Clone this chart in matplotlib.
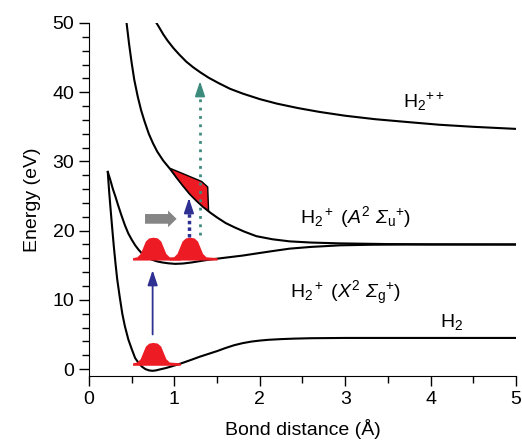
import matplotlib
matplotlib.use("Agg")
import matplotlib.pyplot as plt
from matplotlib.patches import Polygon, FancyArrow

plt.rcParams['font.family'] = ['Liberation Sans', 'DejaVu Sans']
plt.rcParams['mathtext.fontset'] = 'custom'
plt.rcParams['mathtext.rm'] = 'Liberation Sans'
plt.rcParams['mathtext.it'] = 'Liberation Sans:italic'
plt.rcParams['mathtext.bf'] = 'Liberation Sans:bold'
plt.rcParams['mathtext.sf'] = 'Liberation Sans:italic'

# ---- data ----
h2_x = [0.22, 0.235, 0.25, 0.27, 0.29, 0.31, 0.33, 0.36, 0.39, 0.42, 0.46, 0.50, 0.54,
        0.58, 0.62, 0.66, 0.70, 0.74, 0.78, 0.84, 0.90, 0.97, 1.05, 1.12, 1.20, 1.30,
        1.40, 1.50, 1.60, 1.70, 1.80, 1.90, 2.00, 2.10, 2.25, 2.40, 2.60, 3.0, 4.0, 5.0]
h2_y = [28.4, 25.8, 23.5, 20.6, 17.8, 15.3, 13.0, 10.4, 8.0, 6.2, 4.3, 2.9, 1.6,
        0.9, 0.35, 0.0, -0.18, -0.25, -0.2, -0.02, 0.15, 0.4, 0.7, 1.0, 1.35, 1.8,
        2.2, 2.6, 3.05, 3.45, 3.75, 3.97, 4.12, 4.23, 4.33, 4.4, 4.46, 4.5, 4.5, 4.5]

x_x = [0.22, 0.25, 0.28, 0.31, 0.34, 0.38, 0.42, 0.46, 0.50, 0.54, 0.58, 0.62, 0.66,
       0.70, 0.75, 0.80, 0.86, 0.93, 1.01, 1.10, 1.20, 1.30, 1.40, 1.50, 1.60, 1.70,
       1.80, 1.96, 2.15, 2.35, 2.6, 2.94, 3.3, 3.7, 4.2, 5.0]
x_y = [28.5, 27.3, 26.0, 24.9, 23.7, 22.2, 20.8, 19.6, 18.7, 17.9, 17.25, 16.7, 16.3,
       16.0, 15.75, 15.55, 15.4, 15.28, 15.2, 15.25, 15.4, 15.6, 15.8, 15.95, 16.1, 16.25,
       16.4, 16.7, 17.05, 17.4, 17.65, 17.88, 17.96, 18.0, 18.0, 18.0]

a_x = [0.44, 0.47, 0.50, 0.53, 0.57, 0.61, 0.65, 0.70, 0.75, 0.80, 0.87, 0.95, 1.03,
       1.10, 1.18, 1.26, 1.34, 1.42, 1.50, 1.60, 1.70, 1.82, 1.96, 2.15, 2.35, 2.6,
       2.94, 3.5, 4.0, 5.0]
a_y = [50.0, 46.9, 44.2, 41.8, 39.4, 37.4, 35.8, 34.0, 32.6, 31.4, 30.1, 28.9, 27.6,
       26.5, 25.3, 24.3, 23.4, 22.6, 21.9, 21.1, 20.5, 19.85, 19.2, 18.75, 18.45, 18.28,
       18.16, 18.06, 18.02, 18.0]

hpp_x = [0.79, 0.82, 0.87, 0.92, 0.99, 1.06, 1.14, 1.22, 1.30, 1.40, 1.52, 1.65, 1.80,
         2.0, 2.2, 2.45, 2.7, 3.0, 3.35, 3.72, 4.1, 4.5, 5.0]
hpp_y = [50.0, 49.4, 48.35, 47.45, 46.35, 45.4, 44.4, 43.6, 42.9, 42.1, 41.3, 40.5, 39.8,
         39.0, 38.35, 37.7, 37.15, 36.6, 36.1, 35.7, 35.3, 35.0, 34.7]

# wave-packet profile (offset from centre, height above base)
pk_dx = [-0.24, -0.19, -0.15, -0.12, -0.09, -0.05, 0.0, 0.05, 0.09, 0.12, 0.15, 0.19, 0.32]
pk_h = [0.0, 0.12, 0.6, 1.5, 2.4, 2.85, 2.95, 2.85, 2.4, 1.5, 0.6, 0.12, 0.0]
pk_cx = [0.75, 0.75, 1.18]      # packet centres
pk_base = [0.9, 16.1, 16.1]     # packet baselines

# excited red region on the A curve
reg_x = [0.95, 1.32, 1.39, 1.40, 1.34, 1.26, 1.18, 1.10, 1.03]
reg_y = [29.0, 27.1, 26.3, 22.9, 23.4, 24.3, 25.3, 26.5, 27.6]

x_ticks = [0, 1, 2, 3, 4, 5]
y_ticks = [0, 10, 20, 30, 40, 50]

red = '#ed1c24'
navy = '#2e3192'
teal = '#3d8b7d'

fig = plt.figure(figsize=(5.22, 4.48), dpi=100)
ax = fig.add_axes([0.1705, 0.1607, 0.818, 0.788])

lw = 1.5
for xs, ys in [(h2_x, h2_y), (x_x, x_y), (a_x, a_y), (hpp_x, hpp_y)]:
    ax.plot(xs, ys, color='black', lw=lw, zorder=3, solid_joinstyle='round')

# wave packets
for cx, b in zip(pk_cx, pk_base):
    xs = [cx + d for d in pk_dx]
    ys = [b + h for h in pk_h]
    ax.fill_between(xs, [b - 0.35] * len(xs), ys, color=red, lw=0, zorder=4)

# excited region
ax.add_patch(Polygon(list(zip(reg_x, reg_y)), closed=True, facecolor=red,
                     edgecolor='black', lw=1.0, zorder=4))

# solid blue arrow
ax.annotate('', xy=(0.745, 14.7), xytext=(0.745, 4.6),
            arrowprops=dict(arrowstyle='-|>,head_length=0.9,head_width=0.3', color=navy, lw=1.3),
            zorder=5)
# dotted blue arrow
ax.plot([1.17, 1.17], [19.1, 23.8], color=navy, lw=2.5, ls=(0, (1, 0.9)), zorder=5)
ax.annotate('', xy=(1.17, 25.1), xytext=(1.17, 23.5),
            arrowprops=dict(arrowstyle='-|>,head_length=0.9,head_width=0.3', color=navy, lw=1.3),
            zorder=5)
# dotted teal arrow
ax.plot([1.30, 1.30], [19.4, 40.6], color=teal, lw=2.0, ls=(0, (1, 2.0)), zorder=5)
ax.annotate('', xy=(1.30, 42.0), xytext=(1.30, 40.2),
            arrowprops=dict(arrowstyle='-|>,head_length=0.9,head_width=0.3', color=teal, lw=1.3),
            zorder=5)
# grey block arrow
ax.add_patch(FancyArrow(0.656, 21.7, 0.37, 0, width=1.4, head_width=2.4,
                        head_length=0.10, length_includes_head=True,
                        color='#858585', lw=0, zorder=5))

fs = 14
ax.text(3.68, 38.6, r'H$_2{}^{++}$', fontsize=fs, va='center', ha='left')
ax.text(2.47, 22.0, r'H$_2{}^+$ ($\mathit{A}^2$ $\mathsf{Σ}_\mathrm{u}{}^{+}$)',
        fontsize=fs, va='center', ha='left')
ax.text(2.35, 11.0, r'H$_2{}^+$ ($\mathit{X}^2$ $\mathsf{Σ}_\mathrm{g}{}^{+}$)',
        fontsize=fs, va='center', ha='left')
ax.text(4.11, 6.8, r'H$_2$', fontsize=fs, va='center', ha='left')

ax.set_xlim(0, 5)
ax.set_ylim(-1, 50)
ax.set_xticks(x_ticks)
ax.set_yticks(y_ticks)
ax.set_xticks([0.5, 1.5, 2.5, 3.5, 4.5], minor=True)
ax.set_yticks([v for v in range(0, 51, 2) if v % 10], minor=True)
ax.tick_params(which='both', direction='out', labelsize=fs, width=1.0)
ax.tick_params(which='major', length=7)
ax.tick_params(which='minor', length=5)
ax.spines['top'].set_visible(False)
ax.spines['right'].set_visible(False)
ax.spines['left'].set_bounds(-1, 50)
ax.set_xlabel('Bond distance (Å)', fontsize=fs, labelpad=8)
ax.set_ylabel('Energy (eV)', fontsize=fs, labelpad=8)

fig.savefig('out.png', dpi=100)
